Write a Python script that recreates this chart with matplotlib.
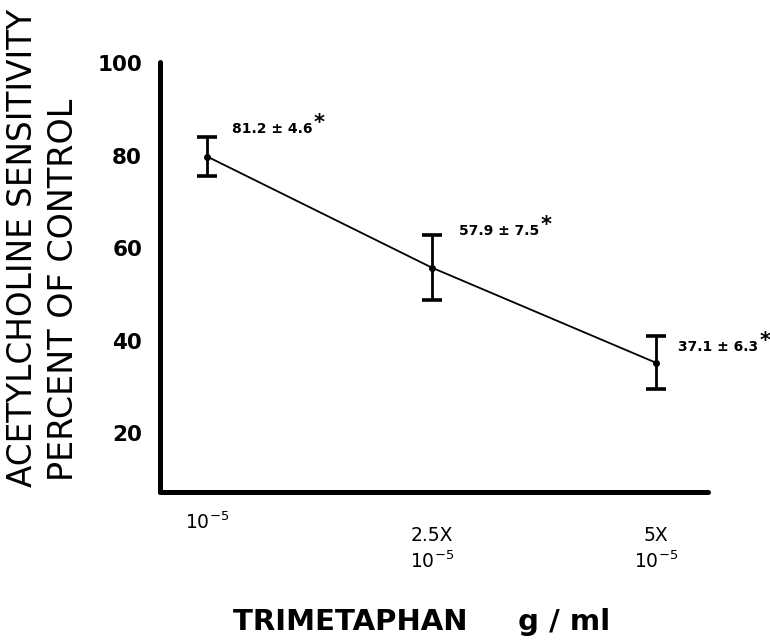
import matplotlib
matplotlib.use("Agg")
import matplotlib.pyplot as plt
import matplotlib.transforms as mtransforms

# Data
doses = ["10$^{-5}$", "2.5X\n10$^{-5}$", "5X\n10$^{-5}$"]
means = [79.8, 55.8, 35.2]
errors = [4.2, 7.1, 5.7]
annotations = ["81.2 \u00b1 4.6", "57.9 \u00b1 7.5", "37.1 \u00b1 6.3"]
yticks = [20, 40, 60, 80, 100]

plt.rcParams['font.family'] = ['DejaVu Sans']

fig = plt.figure(figsize=(7.7, 6.42), dpi=100)
ax = fig.add_axes([0.208, 0.234, 0.711, 0.669])

xs = list(range(len(doses)))
ax.plot(xs, means, color='black', lw=1.3, zorder=2)
ax.errorbar(xs, means, yerr=errors, fmt='o', color='black', ms=4,
            elinewidth=2.0, capsize=7.5, capthick=2.6, zorder=3)

ax.set_xlim(-0.21, 2.23)
ax.set_ylim(7.3, 100.2)

for s in ['top', 'right']:
    ax.spines[s].set_visible(False)
for s in ['left', 'bottom']:
    ax.spines[s].set_linewidth(3.6)
    ax.spines[s].set_capstyle('round')

ax.set_yticks(yticks)
ax.set_yticklabels([str(v) for v in yticks], fontsize=15.5, fontweight='bold')
ax.tick_params(axis='y', length=0, pad=13)
ax.set_xticks(xs)
ax.set_xticklabels([])
ax.tick_params(axis='x', length=0)

# x tick labels drawn below axis at data x positions
trans = mtransforms.blended_transform_factory(ax.transData, ax.transAxes)
label_y = [-0.072, -0.133, -0.133]
for x, lab, ly in zip(xs, doses, label_y):
    ax.text(x, ly, lab, transform=trans, ha='center', va='center',
            fontsize=13.5, linespacing=1.3)

# value annotations
ann_dx = [0.29, 0.3, 0.275]
ann_dy = [6.0, 8.0, 3.5]
for x, m, a, dx, dy in zip(xs, means, annotations, ann_dx, ann_dy):
    t = ax.text(x + dx, m + dy, a, ha='center', va='center',
                fontsize=10, fontweight='bold', clip_on=False)
    ax.annotate("*", xy=(1.0, 0.2), xycoords=t, xytext=(1, 0),
                textcoords='offset points', ha='left', va='bottom',
                fontsize=15, fontweight='bold', annotation_clip=False)

# axis labels
fig.text(0.548, 0.031, "TRIMETAPHAN     g / ml", ha='center', va='center',
         fontsize=21, fontweight='bold')
fig.text(0.029, 0.614, "ACETYLCHOLINE SENSITIVITY", rotation=90,
         ha='center', va='center', fontsize=23.5)
fig.text(0.083, 0.548, "PERCENT OF CONTROL", rotation=90,
         ha='center', va='center', fontsize=24)

fig.savefig("out.png", dpi=100)
